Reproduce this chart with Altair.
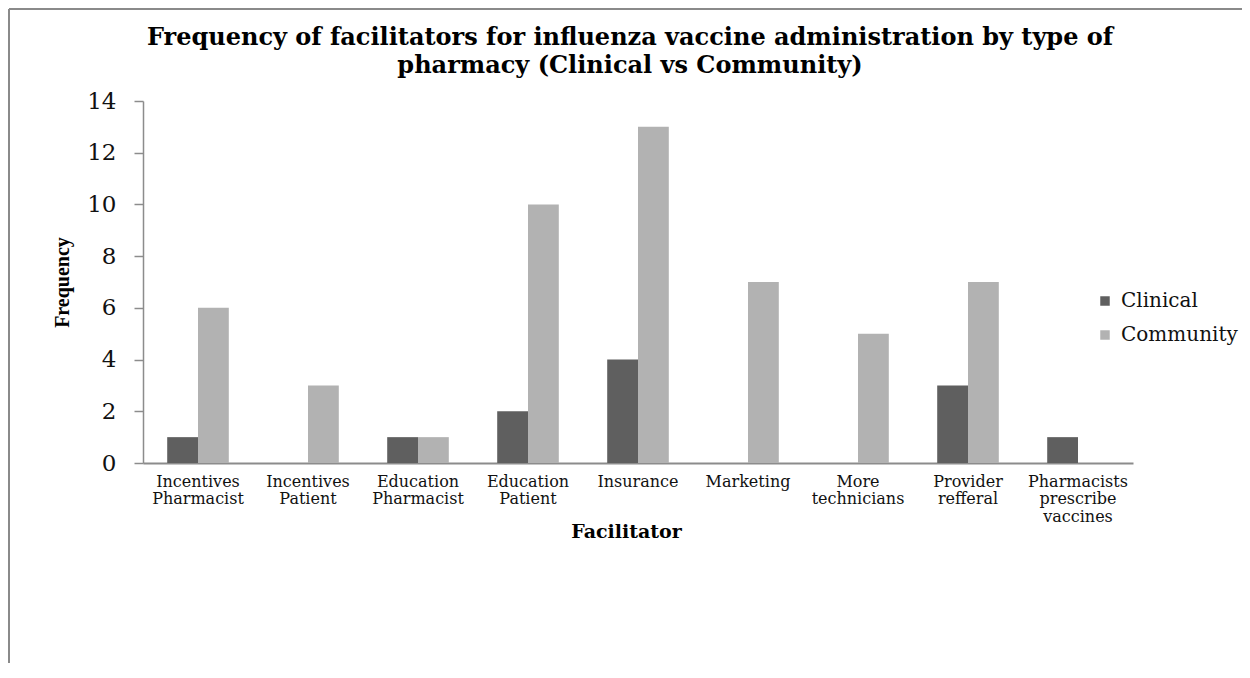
import altair as alt
import pandas as pd

categories = [
    "Incentives Pharmacist",
    "Incentives Patient",
    "Education Pharmacist",
    "Education Patient",
    "Insurance",
    "Marketing",
    "More technicians",
    "Provider refferal",
    "Pharmacists prescribe vaccines",
]
clinical = [1, 0, 1, 2, 4, 0, 0, 3, 1]
community = [6, 3, 1, 10, 13, 7, 5, 7, 0]
series_names = ["Clinical", "Community"]
series_colors = ["#5f5f5f", "#b2b2b2"]
y_ticks = [0, 2, 4, 6, 8, 10, 12, 14]

rows = []
for c, a, b in zip(categories, clinical, community):
    rows.append({"Facilitator": c, "type": "Clinical", "Frequency": a})
    rows.append({"Facilitator": c, "type": "Community", "Frequency": b})
df = pd.DataFrame(rows)

bars = alt.Chart(df).mark_bar().encode(
    x=alt.X(
        "Facilitator:N",
        sort=categories,
        scale=alt.Scale(paddingInner=0.44, paddingOuter=0.22),
        axis=alt.Axis(
            title="Facilitator",
            labelAngle=0,
            labelExpr="split(datum.label, ' ')",
            labelFont="DejaVu Serif",
            labelFontSize=16,
            labelColor="#111111",
            labelLineHeight=17.5,
            labelBaseline="top",
            labelPadding=10,
            ticks=False,
            domainColor="#8c8c8c",
            domainWidth=2,
            titleFont="DejaVu Serif",
            titleFontWeight="bold",
            titleFontSize=19,
            titleColor="#000000",
            titleX=483,
            titleY=74,
            titleAlign="center",
            titleBaseline="alphabetic",
            labelLimit=300,
        ),
    ),
    xOffset=alt.XOffset("type:N", sort=series_names, scale=alt.Scale(paddingInner=0, paddingOuter=0)),
    y=alt.Y(
        "Frequency:Q",
        scale=alt.Scale(domain=[0, 14], nice=False),
        axis=alt.Axis(
            title="Frequency",
            values=y_ticks,
            grid=False,
            labelFont="DejaVu Serif",
            labelFontSize=23,
            labelColor="#111111",
            labelPadding=18,
            tickSize=9,
            tickColor="#8c8c8c",
            tickWidth=1.5,
            domainColor="#8c8c8c",
            domainWidth=1.5,
            titleFont="Liberation Serif",
            titleFontWeight="bold",
            titleFontSize=20,
            titleColor="#000000",
            titleX=-81,
            titleY=181,
            titleAngle=270,
            titleAlign="center",
            titleBaseline="middle",
        ),
    ),
    color=alt.Color(
        "type:N",
        sort=series_names,
        scale=alt.Scale(domain=series_names, range=series_colors),
        legend=alt.Legend(
            title=None,
            orient="none",
            legendX=952,
            legendY=190,
            symbolType="square",
            symbolSize=90,
            symbolStrokeWidth=0,
            labelFont="DejaVu Serif",
            labelFontSize=20,
            labelColor="#111111",
            labelOffset=6,
            rowPadding=14,
            padding=0,
        ),
    ),
)

frame_df = pd.DataFrame({"k": [0]})
frame_top = alt.Chart(frame_df).mark_rule(color="#8a8a8a", strokeWidth=2).encode(
    x=alt.value(-134), x2=alt.value(1120), y=alt.value(-92)
)
frame_left = alt.Chart(frame_df).mark_rule(color="#8a8a8a", strokeWidth=2).encode(
    x=alt.value(-134), y=alt.value(-92), y2=alt.value(600)
)

chart = (
    alt.layer(frame_top, frame_left, bars)
    .properties(
        width=990,
        height=362,
        background="#ffffff",
        autosize=alt.AutoSizeParams(type="none"),
        padding={"left": 135, "top": 93, "right": 109, "bottom": 200},
        title=alt.TitleParams(
            text=[
                "Frequency of facilitators for influenza vaccine administration by type of",
                "pharmacy (Clinical vs Community)",
            ],
            font="DejaVu Serif",
            fontSize=24,
            fontWeight="bold",
            color="#000000",
            anchor="middle",
            frame="group",
            lineHeight=28,
            baseline="alphabetic",
            dx=-8,
            dy=89,
            offset=0,
        ),
    )
    .configure_view(stroke=None, strokeWidth=0)
)

chart.save("out.html", embed_options={"renderer": "svg", "actions": False})
